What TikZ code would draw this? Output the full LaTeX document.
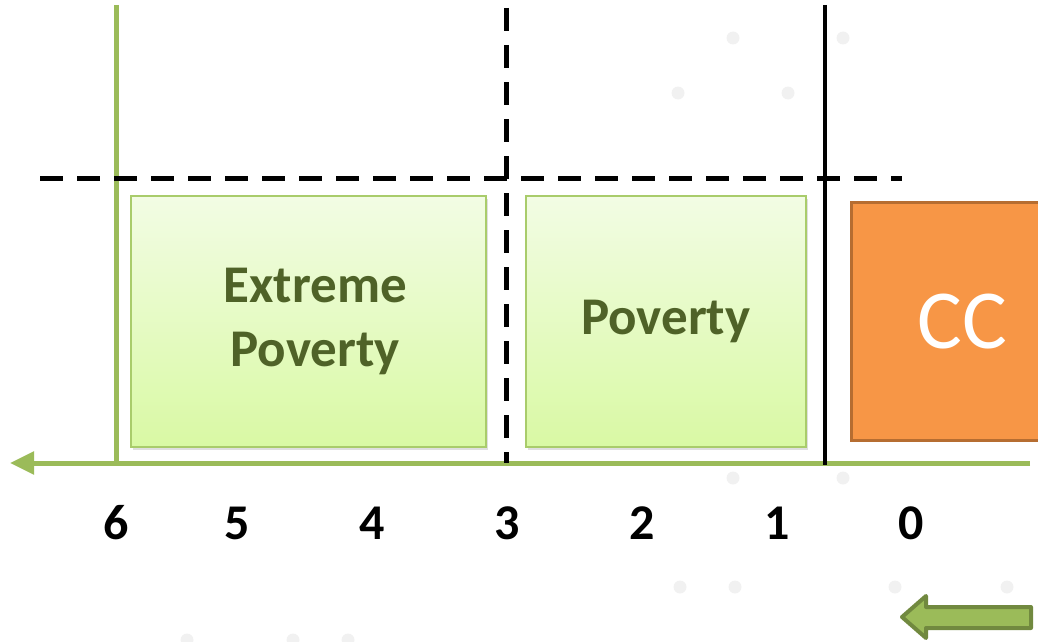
\documentclass[tikz,border=0pt]{standalone}
\usepackage{fontspec}
\setmainfont{Carlito}
\usetikzlibrary{arrows.meta,shadows}
\definecolor{axgreen}{HTML}{9BBB59}
\definecolor{txtgreen}{HTML}{4F6228}
\definecolor{boxtop}{HTML}{F2FCE4}
\definecolor{boxbot}{HTML}{D9F9A4}
\definecolor{boxedge}{HTML}{A9CC6B}
\definecolor{ccfill}{HTML}{F79646}
\definecolor{ccedge}{HTML}{B66D31}
\definecolor{arredge}{HTML}{71893F}
\definecolor{dotgray}{HTML}{F1F1F1}
\tikzset{
  zone/.style={draw=boxedge, line width=1.5pt, top color=boxtop, bottom color=boxbot,
    drop shadow={shadow xshift=2pt, shadow yshift=-3pt, opacity=0.25},
    text=txtgreen, font=\fontsize{53}{64}\selectfont\bfseries, align=center, inner sep=0pt, anchor=north west},
  ccbox/.style={draw=ccedge, line width=3pt, fill=ccfill, text=white,
    font=\fontsize{84}{90}\selectfont, inner sep=0pt, anchor=north west},
  tick/.style={font=\fontsize{50}{54}\selectfont\bfseries, text=black, inner sep=0pt},
  dashline/.style={line width=5pt, dash pattern=on 23pt off 14pt},
  axline/.style={line width=5pt, draw=axgreen},
  bgdot/.style={circle, fill=dotgray, minimum size=13pt, inner sep=0pt}
}
\begin{document}
\begin{tikzpicture}[x=1pt,y=-1pt]
\useasboundingbox (0,0) rectangle (1038,642);
% faint background dots
\foreach \i/\px/\py in {1/733/38, 2/843/38, 3/678/93, 4/788/93, 5/733/478, 6/843/478, 7/680/587, 8/735/587, 9/895/587, 10/1007/587, 11/187/640, 12/293/640, 13/348/640} {
  \node[bgdot] (dot\i) at (\px,\py) {};
}
% boxes
\node[zone, minimum width=355pt, minimum height=251pt] (ext) at (130,195) {\hspace*{14pt}Extreme\\\hspace*{14pt}Poverty};
\node[zone, minimum width=280pt, minimum height=251pt] (pov) at (525,195) {Poverty};
\node[ccbox, minimum width=222pt, minimum height=238pt] (cc) at (850,201) {CC};
% axis
\coordinate (axR) at (1030,463);
\coordinate (axL) at (10,463);
\draw[axline, -{Triangle[length=24pt,width=22pt]}] (axR) -- (axL);
% vertical lines
\coordinate (g1) at (116,5);
\coordinate (g2) at (116,466);
\draw[axline] (g1) -- (g2);
\coordinate (d1) at (506,8);
\coordinate (d2) at (506,463);
\draw[dashline] (d1) -- (d2);
\coordinate (s1) at (825,5);
\coordinate (s2) at (825,465);
\draw[line width=4pt] (s1) -- (s2);
\coordinate (h1) at (40,178);
\coordinate (h2) at (902,178);
\draw[dashline] (h1) -- (h2);
% ticks
\node[tick] (t6) at (116,523) {6};
\node[tick] (t5) at (237,523) {5};
\node[tick] (t4) at (372,523) {4};
\node[tick] (t3) at (507,523) {3};
\node[tick] (t2) at (642,523) {2};
\node[tick] (t1) at (777,523) {1};
\node[tick] (t0) at (911,523) {0};
% block arrow
\draw[draw=arredge, fill=axgreen, line width=4pt, line join=round]
  (902,617) -- (926,596) -- (926,607) -- (1031,607) -- (1031,628) -- (926,628) -- (926,638) -- cycle;
\end{tikzpicture}
\end{document}
